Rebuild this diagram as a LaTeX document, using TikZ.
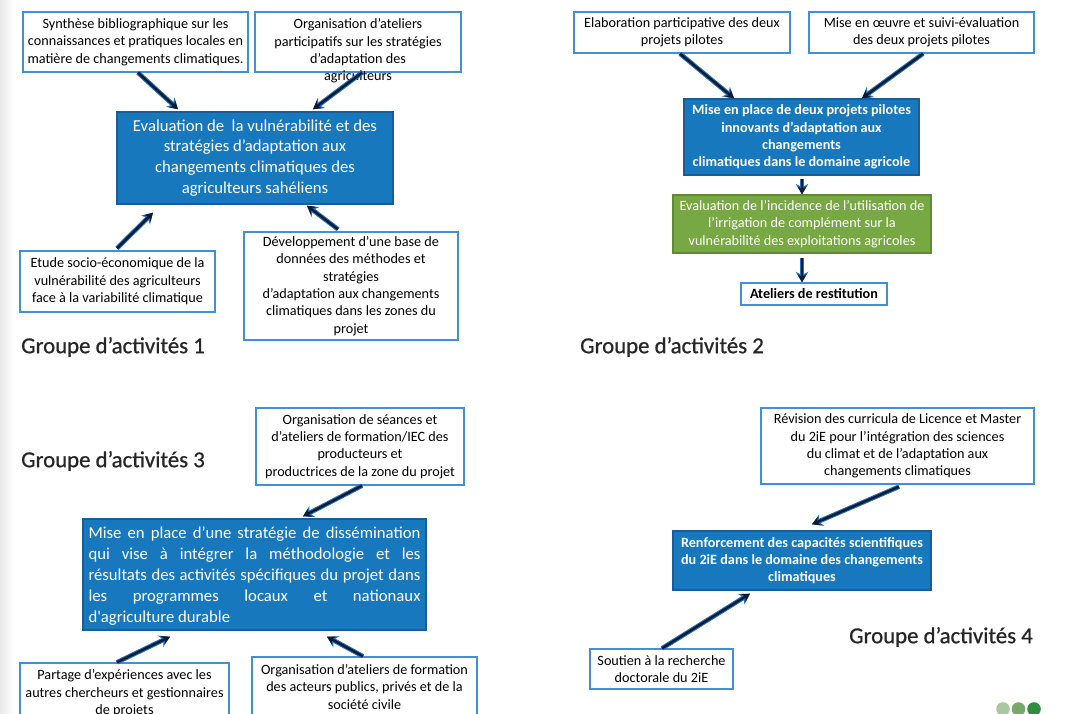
\documentclass[tikz,border=0pt]{standalone}
\usepackage{fontspec}
\setmainfont{Carlito}
\newfontfamily\grpfont[FakeBold=0.7]{Carlito}
\usetikzlibrary{arrows.meta,calc}
\definecolor{bord}{HTML}{4090D2}
\definecolor{bfill}{HTML}{1878BE}
\definecolor{bdark}{HTML}{1B5C96}
\definecolor{gfill}{HTML}{78A843}
\definecolor{gdark}{HTML}{5F8A36}
\definecolor{abl}{HTML}{2070C0}
\definecolor{navy}{HTML}{0E1A30}
\definecolor{tgray}{HTML}{262626}
\definecolor{dotA}{HTML}{A8C8A0}
\definecolor{dotB}{HTML}{78A86C}
\definecolor{dotC}{HTML}{2F8C40}
\tikzset{
  wbox/.style={draw=bord, line width=1.4pt, fill=white, inner sep=0pt, align=center,
    font=\fontsize{14.2}{17.3}\selectfont},
  plain/.style={inner sep=0pt, align=center, font=\fontsize{14.2}{17.3}\selectfont},
  bbox/.style={draw=bdark, fill=bfill, line width=1.4pt, text=white, inner sep=0pt, align=center},
  gbox/.style={draw=gdark, fill=gfill, line width=1.2pt, text=white, inner sep=0pt, align=center,
    font=\fontsize{14.2}{17.3}\selectfont},
  bigfont/.style={font=\fontsize{16.7}{20.8}\selectfont},
  boldfont/.style={font=\fontsize{14.2}{17.3}\selectfont\bfseries},
  arr/.style={draw=navy, line width=2.4pt, -{Stealth[length=8pt,width=9pt]},
    preaction={draw=abl, line width=4.6pt, -{Stealth[length=10.5pt,width=12.5pt]}}},
  grptitle/.style={font=\grpfont\fontsize{22.8}{26}\selectfont, text=tgray, inner sep=0pt}
}
\begin{document}
\begin{tikzpicture}[x=1pt,y=-1pt]
\useasboundingbox (0,0) rectangle (1070,714);
\clip (0,0) rectangle (1070,714);
\fill[white] (0,0) rectangle (1070,714);
\shade[left color=black!9, right color=white] (0,0) rectangle (14,714);

% ---------- Groupe 1 ----------
\node[wbox, minimum width=225pt, minimum height=60pt] (a1) at (135.5,42)
  {Synthèse bibliographique sur les\\connaissances et pratiques locales en\\matière de changements climatiques.};
\node[wbox, minimum width=206pt, minimum height=60pt] (a2) at (358,42) {};
\node[plain] (a2t) at (358,51)
  {Organisation d’ateliers\\participatifs sur les stratégies\\d’adaptation des\\agriculteurs};
\node[bbox, bigfont, minimum width=276pt, minimum height=92pt] (ac) at (255,158)
  {Evaluation de\ \ la vulnérabilité et des\\stratégies d’adaptation aux\\changements climatiques des\\agriculteurs sahéliens};
\node[wbox, minimum width=195pt, minimum height=61pt] (a3) at (117.5,281.5)
  {Etude socio-économique de la\\vulnérabilité des agriculteurs\\face à la variabilité climatique};
\node[wbox, minimum width=214pt, minimum height=108pt] (a4) at (351,286)
  {Développement d’une base de\\données des méthodes et\\stratégies\\d’adaptation aux changements\\climatiques dans les zones du\\projet};
\node[grptitle, anchor=west] (t1) at (21,347) {Groupe d’activités 1};

\draw[arr] ([xshift=2.5pt]a1.south) -- ([xshift=-77pt,yshift=2pt]ac.north);
\draw[arr] ([xshift=4pt]a2.south) -- ([xshift=58pt,yshift=2pt]ac.north);
\draw[arr] ([xshift=-0.5pt,yshift=2pt]a3.north) -- ([xshift=-102pt,yshift=-8pt]ac.south);
\draw[arr] ([xshift=-13pt,yshift=2pt]a4.north) -- ([xshift=52pt,yshift=-1pt]ac.south);

% ---------- Groupe 2 ----------
\node[wbox, minimum width=216pt, minimum height=41pt] (b1) at (682,32.5)
  {Elaboration participative des deux\\projets pilotes};
\node[wbox, minimum width=225pt, minimum height=41pt] (b2) at (921.5,32.5)
  {Mise en œuvre et suivi-évaluation\\des deux projets pilotes};
\node[bbox, boldfont, minimum width=235pt, minimum height=76pt] (bc) at (801.5,137)
  {Mise en place de deux projets pilotes\\innovants d’adaptation aux\\changements\\climatiques dans le domaine agricole};
\node[gbox, minimum width=258pt, minimum height=58pt] (bg) at (802,224)
  {Evaluation de l’incidence de l’utilisation de\\l’irrigation de complément sur la\\vulnérabilité des exploitations agricoles};
\node[wbox, boldfont, minimum width=146pt, minimum height=22pt] (bat) at (814,294)
  {Ateliers de restitution};
\node[grptitle, anchor=west] (t2) at (580,347) {Groupe d’activités 2};

\draw[arr] ([xshift=-2pt]b1.south) -- ([xshift=-67.5pt]bc.north);
\draw[arr] ([xshift=1.5pt]b2.south) -- ([xshift=60.5pt]bc.north);
\draw[arr] ([xshift=0.5pt,yshift=-3pt]bc.south) -- (bg.north);
\draw[arr] ([yshift=-4pt]bg.south) -- ([xshift=-12pt]bat.north);

% ---------- Groupe 3 ----------
\node[wbox, minimum width=208pt, minimum height=77pt] (c1) at (360,446.5)
  {Organisation de séances et\\d’ateliers de formation/IEC des\\producteurs et\\productrices de la zone du projet};
\node[bbox, minimum width=343pt, minimum height=111pt] (cc) at (254.5,574.5) {};
\node[text=white, bigfont, text width=332pt, align=justify, inner sep=0pt] (cct) at (254.5,576)
  {Mise en place d’une stratégie de dissémination\linebreak
   qui vise à intégrer la méthodologie et les\linebreak
   résultats des activités spécifiques du projet dans\linebreak
   les programmes locaux et nationaux\linebreak
   d\textquotesingle agriculture durable};
\node[wbox, minimum width=209pt, minimum height=61pt] (c2) at (124.5,693.5)
  {Partage d’expériences avec les\\autres chercheurs et gestionnaires\\de projets};
\node[wbox, minimum width=225pt, minimum height=60pt] (c3) at (364.5,687)
  {Organisation d’ateliers de formation\\des acteurs publics, privés et de la\\société civile};
\node[grptitle, anchor=west] (t3) at (21,461) {Groupe d’activités 3};

\draw[arr] ([xshift=2pt]c1.south) -- ([xshift=48.5pt,yshift=2pt]cc.north);
\draw[arr] ([xshift=-7.5pt]c2.north) -- ([xshift=-84.5pt,yshift=-6pt]cc.south);
\draw[arr] ([xshift=-1.5pt]c3.north) -- ([xshift=72.5pt,yshift=-6pt]cc.south);

% ---------- Groupe 4 ----------
\node[wbox, minimum width=273pt, minimum height=76pt] (d1) at (897.5,446)
  {Révision des curricula de Licence et Master\\du 2iE pour l’intégration des sciences\\du climat et de l’adaptation aux\\changements climatiques};
\node[bbox, boldfont, minimum width=258pt, minimum height=59pt] (dc) at (802,560.5)
  {Renforcement des capacités scientifiques\\du 2iE dans le domaine des changements\\climatiques};
\node[wbox, minimum width=143pt, minimum height=40pt] (d2) at (661.5,669)
  {Soutien à la recherche\\doctorale du 2iE};
\node[grptitle, anchor=east] (t4) at (1033,637) {Groupe d’activités 4};

\draw[arr] ([xshift=1.5pt,yshift=-2pt]d1.south) -- ([xshift=10pt,yshift=6pt]dc.north);
\draw[arr] ([xshift=0.5pt]d2.north) -- ([xshift=-52pt,yshift=-3pt]dc.south);

% ---------- dots ----------
\fill[dotA] (1003,709) circle (6.8);
\fill[dotB] (1018.5,709) circle (6.8);
\fill[dotC] (1034,709) circle (6.8);
\end{tikzpicture}
\end{document}
